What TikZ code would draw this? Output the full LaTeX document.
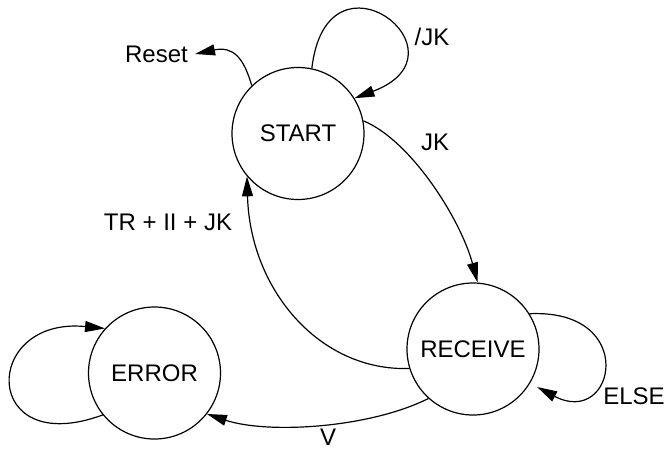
\documentclass[tikz,border=0pt]{standalone}
\usepackage{fontspec}
\setmainfont{Liberation Sans}
\usetikzlibrary{arrows.meta}
\begin{document}
\begin{tikzpicture}[x=1pt,y=-1pt,
  state/.style={circle,draw,line width=1.2pt,minimum size=132pt,inner sep=0pt,font=\fontsize{24}{28}\selectfont},
  lbl/.style={inner sep=0pt,font=\fontsize{24}{28}\selectfont},
  edge/.style={line width=1.2pt,-{Triangle[length=20pt,width=11pt]}}]
\useasboundingbox (0,0) rectangle (668,451);
\node[state] (S) at (298,133.5) {START};
\node[state] (R) at (473,349) {RECEIVE};
\node[state] (E) at (154.5,373) {ERROR};
\node[lbl] (reset) at (156.5,54) {Reset};
\node[lbl] (ljk) at (432,37) {/JK};
\node[lbl] (ljk2) at (435,142) {JK};
\node[lbl] (ltr) at (168,222) {TR + II + JK};
\node[lbl] (lelse) at (634,396) {ELSE};
\node[lbl] (lv) at (328,437) {V};
\coordinate (resettip) at ([xshift=7pt]reset.east);
% Reset
\draw[edge] (S.134) .. controls +(-8,-28) and +(38,-8) .. (resettip);
% /JK self loop
\draw[edge] (S.78) .. controls +(15,-130) and +(120,-45) .. (S.32);
% JK
\draw[edge] (S.11.5) .. controls +(48,20) and +(-17,-63) .. (R.86.5);
% TR + II + JK
\draw[edge] (R.197.6) .. controls +(-90,3) and +(3,113) .. (S.220);
% ELSE self loop
\draw[edge,shorten >=8pt] (R.32) .. controls +(110,-5) and +(85,45) .. (R.-31);
% V
\draw[edge] (R.228) .. controls +(-60,30) and +(60,20) .. (E.-38);
% ERROR self loop
\draw[edge] (E.219) .. controls +(-122,45) and +(-124,-12) .. (E.138);
\end{tikzpicture}
\end{document}
